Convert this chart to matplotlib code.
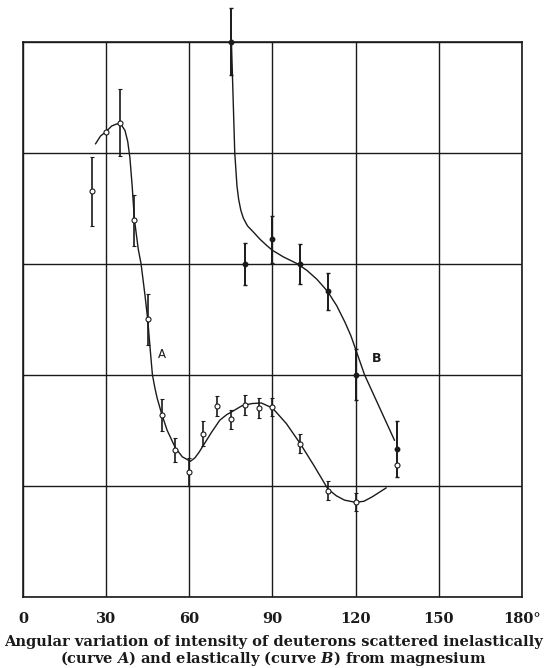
import matplotlib.pyplot as plt

## Fonts (serif bold for labels, like the scanned book figure)
plt.rcParams['font.family'] = ['DejaVu Serif']
plt.rcParams['mathtext.fontset'] = 'custom'
plt.rcParams['mathtext.rm'] = 'DejaVu Serif:bold'
plt.rcParams['mathtext.it'] = 'DejaVu Serif:bold:italic'

## Curve A points (open circles): angle, intensity, error
a_angle = [25, 30, 35, 40, 45, 50, 55, 60, 65, 70, 75, 80, 85, 90, 100, 110, 120, 135]
a_value = [3.65, 4.19, 4.27, 3.39, 2.50, 1.64, 1.32, 1.125, 1.47, 1.72, 1.60, 1.73, 1.70, 1.71, 1.38, 0.955, 0.855, 1.19]
a_err = [0.31, 0.0, 0.30, 0.23, 0.23, 0.145, 0.11, 0.125, 0.115, 0.09, 0.085, 0.09, 0.09, 0.08, 0.085, 0.085, 0.08, 0.0]

## Curve A drawn line
a_curve_x = [26.2, 28, 30, 32, 34, 35.5, 36.8, 37.8, 38.6, 39.4, 40.2, 41.6, 42.6, 44, 45, 46, 46.7, 47.6, 48.4, 50, 52,
             55, 57.5, 60.4, 62, 63.5, 65, 68, 71, 73.5, 75.6, 79, 82.6, 86, 90, 95, 100, 105, 110, 113, 116, 120,
             123, 126, 131]
a_curve_y = [4.08, 4.15, 4.19, 4.24, 4.26, 4.25, 4.2, 4.1, 3.95, 3.7, 3.4, 3.13, 3.0, 2.72, 2.5, 2.2, 2.0, 1.88, 1.79, 1.65, 1.5,
             1.34, 1.26, 1.22, 1.25, 1.30, 1.36, 1.48, 1.59, 1.64, 1.67, 1.72, 1.74, 1.745, 1.70, 1.56, 1.38, 1.18, 0.97, 0.91, 0.87, 0.85,
             0.86, 0.9, 0.98]

## Curve B points (filled dots)
b_angle = [75, 80, 90, 100, 110, 120, 135]
b_value = [5.0, 3.0, 3.22, 3.0, 2.75, 2.0, 1.33]
b_err = [0.30, 0.19, 0.21, 0.18, 0.17, 0.23, 0.25]

## Curve B drawn line
b_curve_x = [75.2, 75.8, 76.4, 76.8, 77.2, 77.8, 78.6, 79.5, 81, 83.3, 85.5, 88.1, 90, 94, 98.9, 102.4, 106, 109.9,
             113.2, 116.2, 118.3, 120, 123.2, 134]
b_curve_y = [5.0, 4.5, 4.0, 3.85, 3.7, 3.58, 3.48, 3.41, 3.34, 3.28, 3.22, 3.16, 3.12, 3.06, 3.0, 2.94, 2.86, 2.75,
             2.62, 2.47, 2.35, 2.23, 2.0, 1.41]

## Axis ticks
x_ticks = [0, 30, 60, 90, 120, 150, 180]
x_labels = ['0', '30', '60', '90', '120', '150', '180°']
y_ticks = [0, 1, 2, 3, 4, 5]

fig = plt.figure(figsize=(5.46, 6.68), dpi=100)
ax = fig.add_axes([0.042, 0.1067, 0.914, 0.831])

ink = '#1a1a1a'

## Grid(setka)
for gx in x_ticks:
    ax.axvline(gx, color=ink, lw=1.0, zorder=1)
for gy in y_ticks:
    ax.axhline(gy, color=ink, lw=1.0, zorder=1)

## Curves
ax.plot(a_curve_x, a_curve_y, color=ink, lw=1.0, zorder=2)
ax.plot(b_curve_x, b_curve_y, color=ink, lw=1.0, zorder=2, clip_on=False)

## Error bars and points
ax.errorbar(b_angle, b_value, yerr=b_err, fmt='o', ms=3.2, color=ink, mfc=ink, mec=ink,
            elinewidth=1.4, capsize=1.5, capthick=1.0, zorder=3, clip_on=False)
ax.errorbar(a_angle, a_value, yerr=a_err, fmt='o', ms=3.6, color=ink, mfc='white', mec=ink,
            mew=0.8, elinewidth=1.2, capsize=1.5, capthick=1.0, zorder=4)

## Curve labels
ax.text(50.2, 2.18, 'A', fontsize=8.5, family='DejaVu Sans', ha='center', va='center', color=ink)
ax.text(127.5, 2.15, 'B', fontsize=9, family='DejaVu Sans', fontweight='bold', ha='center', va='center', color=ink)

## Size X-axis and Y-axis
ax.set_xlim(0, 180)
ax.set_ylim(0, 5)

## Ticks marks(metki deleniy)
ax.set_xticks(x_ticks)
ax.set_xticklabels(x_labels, fontsize=10.5, fontweight='bold')
ax.set_yticks([])
ax.tick_params(axis='x', length=0, pad=11, colors=ink)
for s in ax.spines.values():
    s.set_color(ink)
    s.set_linewidth(1.2)

## Caption
fig.text(0.5, 0.039, 'Angular variation of intensity of deuterons scattered inelastically',
         ha='center', va='center', fontsize=10.5, fontweight='bold', color=ink)
fig.text(0.5, 0.014, '(curve $A$) and elastically (curve $B$) from magnesium',
         ha='center', va='center', fontsize=10.5, fontweight='bold', color=ink)

## Save PNG pictures
plt.savefig('out.png', dpi=100)
